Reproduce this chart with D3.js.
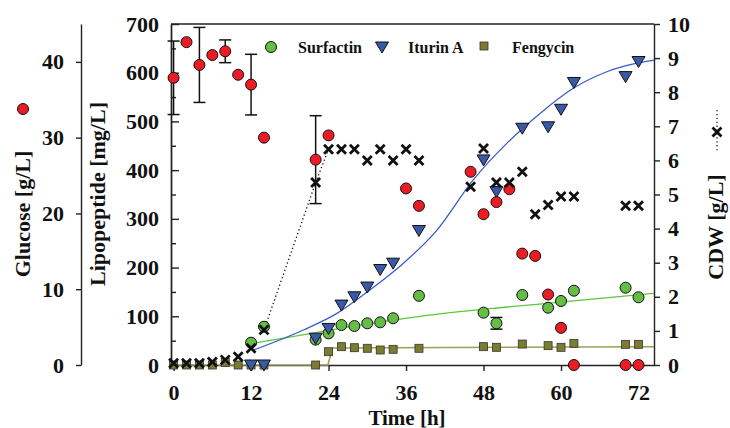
<!DOCTYPE html>
<html>
<head>
<meta charset="utf-8">
<script src="https://cdn.jsdelivr.net/npm/d3@7"></script>
<style>
  body { margin: 0; background: #fff; }
  svg { font-family: 'Liberation Serif', 'Times New Roman', serif; font-weight: bold; }
  .axis path, .axis line { stroke: #222; stroke-width: 1.4; }
  .axis text { font-size: 22px; font-weight: bold; fill: #111; font-family: 'Liberation Serif', serif; }
  .title { font-size: 22px; fill: #111; }
  .legend text { font-size: 16px; fill: #111; }
</style>
</head>
<body>
<div id="chart"></div>
<script>
// glucose [g/L]
const glucoseTime = [0, 2, 4, 6, 8, 10, 12, 14, 22, 24, 36, 38, 46, 48, 50, 52, 54, 56, 58, 60, 62, 70, 72];
const glucoseValue = [37.9, 42.6, 39.6, 40.9, 41.4, 38.3, 37.0, 30.0, 27.1, 30.3, 23.3, 21.0, 25.5, 19.9, 21.5, 23.2, 14.7, 14.4, 9.3, 4.9, 0, 0, 0];
const glucoseError = [4.85, 0, 4.95, 0, 1.5, 0, 4.0, 0, 5.8, 0, 0, 0, 0, 0, 0, 0, 0, 0, 0, 0, 0, 0, 0];

// cell dry weight [g/L]
const cdwTime = [0, 2, 4, 6, 8, 10, 12, 14, 22, 24, 26, 28, 30, 32, 34, 36, 38, 46, 48, 50, 52, 54, 56, 58, 60, 62, 70, 72];
const cdwValue = [0.05, 0.05, 0.05, 0.09, 0.15, 0.24, 0.49, 1.03, 5.35, 6.33, 6.33, 6.33, 6.0, 6.33, 6.0, 6.33, 6.0, 5.23, 6.35, 5.35, 5.35, 5.67, 4.42, 4.69, 4.94, 4.94, 4.67, 4.67];
const cdwTrendTime = [14, 22, 24];

// lipopeptides [mg/L]
const surfactinTime = [12, 14, 22, 24, 26, 28, 30, 32, 34, 38, 48, 50, 54, 58, 60, 62, 70, 72];
const surfactinValue = [45.8, 78.6, 52, 65, 82, 80, 85.6, 87.6, 96, 142, 107.4, 85.6, 143.7, 117.6, 131.4, 152.5, 158.7, 139];
const surfactinError = [0, 0, 0, 0, 0, 0, 0, 0, 0, 0, 0, 12, 0, 0, 0, 0, 0, 0];

const iturinTime = [12, 14, 22, 24, 26, 28, 30, 32, 34, 38, 48, 50, 54, 58, 60, 62, 70, 72];
const iturinValue = [0, 0, 55, 75, 123, 140, 160, 196, 209, 276, 421, 356, 486, 489, 525, 580, 592, 623];

const fengycinTime = [0, 2, 4, 6, 8, 10, 12, 14, 22, 24, 26, 28, 30, 32, 34, 38, 48, 50, 54, 58, 60, 62, 70, 72];
const fengycinValue = [0, 0, 0, 0, 5, 0, 0, 0, 0, 27.3, 37.6, 35.5, 34.3, 30.8, 32.2, 34.3, 37.6, 36.3, 43, 39.7, 36.3, 44.5, 42.4, 42.4];

// fitted curves
const surfactinFitTime = [12.4, 20, 27.3, 38.2, 50, 59.9, 74.4];
const surfactinFitValue = [44.6, 62, 78.6, 100, 117, 129, 147];
const iturinFitTime = [12.4, 20.1, 25.3, 30.4, 35.6, 40.8, 46.4, 51.6, 56.8, 61.9, 67.1, 72.3, 74.4];
const iturinFitValue = [30.8, 71.9, 106, 154, 209, 277, 380, 455, 517, 568, 602, 621, 626];
const fengycinFitTime = [0, 23.9, 24.6, 74.4];
const fengycinFitValue = [0, 0, 35, 37.6];

const timeTicks = [0, 12, 24, 36, 48, 60, 72];
const lipoTicks = [0, 100, 200, 300, 400, 500, 600, 700];
const lipoMinorTicks = [50, 150, 250, 350, 450, 550, 650];
const glucoseTicks = [0, 10, 20, 30, 40];
const cdwTicks = [0, 1, 2, 3, 4, 5, 6, 7, 8, 9, 10];

const legendNames = ['Surfactin', 'Iturin A', 'Fengycin'];

const colors = {
  glucose: '#ec1c24',
  surfactin: '#66bd46',
  iturin: '#3a5aa8',
  fengycin: '#7c7c30',
  surfactinLine: '#5cc83a',
  iturinLine: '#3b5cc8',
  fengycinLine: '#9e9e5c',
};

const zip = (t, v) => t.map((d, i) => ({ t: d, v: v[i] }));

const svg = d3.select('#chart')
  .append('svg')
  .attr('width', 730)
  .attr('height', 428);

const x = d3.scaleLinear().domain([-0.4, 74.4]).range([171, 654]);
const yLipo = d3.scaleLinear().domain([0, 700]).range([365, 24]);
const yGlucose = d3.scaleLinear().domain([0, 45]).range([365, 24]);
const yCdw = d3.scaleLinear().domain([0, 10]).range([365, 24]);

// axes
svg.append('line')
  .attr('x1', x.range()[0])
  .attr('x2', x.range()[1])
  .attr('y1', yLipo.range()[1])
  .attr('y2', yLipo.range()[1])
  .attr('stroke', '#222')
  .attr('stroke-width', 1.4);

svg.append('g')
  .attr('class', 'axis')
  .attr('transform', `translate(${x.range()[0]},0)`)
  .call(d3.axisLeft(yLipo).tickValues(lipoTicks).tickSize(-8).tickSizeOuter(0).tickPadding(12));

svg.append('g')
  .attr('class', 'axis')
  .attr('transform', `translate(${x.range()[0]},0)`)
  .call(d3.axisLeft(yLipo).tickValues(lipoMinorTicks).tickSize(-5).tickSizeOuter(0).tickFormat(''));

svg.append('g')
  .attr('class', 'axis')
  .attr('transform', 'translate(81,0)')
  .call(d3.axisLeft(yGlucose).tickValues(glucoseTicks).tickSize(5).tickSizeOuter(0).tickPadding(12));

svg.append('g')
  .attr('class', 'axis')
  .attr('transform', `translate(${x.range()[1]},0)`)
  .call(d3.axisRight(yCdw).tickValues(cdwTicks).tickSize(6).tickSizeOuter(0).tickPadding(8));

svg.append('g')
  .attr('class', 'axis')
  .attr('transform', `translate(0,${yLipo(0)})`)
  .call(d3.axisBottom(x).tickValues(timeTicks).tickSize(6).tickSizeOuter(0).tickPadding(13.5));

// axis titles
svg.append('text')
  .attr('class', 'title')
  .attr('transform', 'translate(30,214) rotate(-90)')
  .attr('text-anchor', 'middle')
  .text('Glucose [g/L]');

svg.append('text')
  .attr('class', 'title')
  .attr('transform', 'translate(105,194) rotate(-90)')
  .attr('text-anchor', 'middle')
  .text('Lipopeptide [mg/L]');

svg.append('text')
  .attr('class', 'title')
  .attr('transform', 'translate(723,227) rotate(-90)')
  .attr('text-anchor', 'middle')
  .text('CDW [g/L]');

svg.append('text')
  .attr('class', 'title')
  .attr('x', 407)
  .attr('y', 424.5)
  .attr('text-anchor', 'middle')
  .style('font-size', '21px')
  .text('Time [h]');

// fit lines
const fitLine = y => d3.line()
  .x(d => x(d.t))
  .y(d => y(d.v))
  .curve(d3.curveMonotoneX);

svg.append('path')
  .datum(zip(fengycinFitTime, fengycinFitValue))
  .attr('fill', 'none')
  .attr('stroke', colors.fengycinLine)
  .attr('stroke-width', 1.6)
  .attr('d', d3.line().x(d => x(d.t)).y(d => yLipo(d.v)));

svg.append('path')
  .datum(zip(surfactinFitTime, surfactinFitValue))
  .attr('fill', 'none')
  .attr('stroke', colors.surfactinLine)
  .attr('stroke-width', 1.3)
  .attr('d', fitLine(yLipo));

svg.append('path')
  .datum(zip(iturinFitTime, iturinFitValue))
  .attr('fill', 'none')
  .attr('stroke', colors.iturinLine)
  .attr('stroke-width', 1.3)
  .attr('d', fitLine(yLipo));

const cdwTrend = zip(cdwTime, cdwValue).filter(d => cdwTrendTime.includes(d.t));
svg.append('path')
  .datum(cdwTrend)
  .attr('fill', 'none')
  .attr('stroke', '#111')
  .attr('stroke-width', 1.3)
  .attr('stroke-dasharray', '1.3,2.6')
  .attr('d', d3.line().x(d => x(d.t)).y(d => yCdw(d.v)));

// error bars
const errorBars = (data, y) => {
  const g = svg.append('g')
    .attr('stroke', '#111')
    .attr('stroke-width', 1.5);
  const bars = data.filter(d => d.e > 0);
  g.selectAll('.eb-v')
    .data(bars)
    .enter()
    .append('line')
    .attr('x1', d => x(d.t))
    .attr('x2', d => x(d.t))
    .attr('y1', d => y(d.v + d.e))
    .attr('y2', d => y(d.v - d.e));
  g.selectAll('.eb-top')
    .data(bars)
    .enter()
    .append('line')
    .attr('x1', d => x(d.t) - 6)
    .attr('x2', d => x(d.t) + 6)
    .attr('y1', d => y(d.v + d.e))
    .attr('y2', d => y(d.v + d.e));
  g.selectAll('.eb-bottom')
    .data(bars)
    .enter()
    .append('line')
    .attr('x1', d => x(d.t) - 6)
    .attr('x2', d => x(d.t) + 6)
    .attr('y1', d => y(d.v - d.e))
    .attr('y2', d => y(d.v - d.e));
};

errorBars(glucoseTime.map((t, i) => ({ t, v: glucoseValue[i], e: glucoseError[i] })), yGlucose);
errorBars(surfactinTime.map((t, i) => ({ t, v: surfactinValue[i], e: surfactinError[i] })), yLipo);

// markers
const triangleDown = 'M-6.5,-5L6.5,-5L0,6Z';
const cross = 'M-4.5,-4.5L4.5,4.5M-4.5,4.5L4.5,-4.5';

svg.append('g')
  .selectAll('rect')
  .data(zip(fengycinTime, fengycinValue))
  .enter()
  .append('rect')
  .attr('x', d => x(d.t) - 4)
  .attr('y', d => yLipo(d.v) - 4)
  .attr('width', 8)
  .attr('height', 8)
  .attr('fill', colors.fengycin)
  .attr('stroke', '#333')
  .attr('stroke-width', 0.8);

svg.append('g')
  .selectAll('circle')
  .data(zip(surfactinTime, surfactinValue))
  .enter()
  .append('circle')
  .attr('cx', d => x(d.t))
  .attr('cy', d => yLipo(d.v))
  .attr('r', 5.5)
  .attr('fill', colors.surfactin)
  .attr('stroke', '#111')
  .attr('stroke-width', 1);

svg.append('g')
  .selectAll('path')
  .data(zip(iturinTime, iturinValue))
  .enter()
  .append('path')
  .attr('transform', d => `translate(${x(d.t)},${yLipo(d.v)})`)
  .attr('d', triangleDown)
  .attr('fill', colors.iturin)
  .attr('stroke', '#111')
  .attr('stroke-width', 1);

svg.append('g')
  .selectAll('circle')
  .data(zip(glucoseTime, glucoseValue))
  .enter()
  .append('circle')
  .attr('cx', d => x(d.t))
  .attr('cy', d => yGlucose(d.v))
  .attr('r', 5.5)
  .attr('fill', colors.glucose)
  .attr('stroke', '#111')
  .attr('stroke-width', 1);

svg.append('g')
  .selectAll('path')
  .data(zip(cdwTime, cdwValue))
  .enter()
  .append('path')
  .attr('transform', d => `translate(${x(d.t)},${yCdw(d.v)})`)
  .attr('d', cross)
  .attr('fill', 'none')
  .attr('stroke', '#111')
  .attr('stroke-width', 2.8);

// legends
const legend = svg.append('g').attr('class', 'legend');

legend.append('circle')
  .attr('cx', 271)
  .attr('cy', 47)
  .attr('r', 5.5)
  .attr('fill', colors.surfactin)
  .attr('stroke', '#111');
legend.append('path')
  .attr('transform', 'translate(382,47)')
  .attr('d', triangleDown)
  .attr('fill', colors.iturin)
  .attr('stroke', '#111');
legend.append('rect')
  .attr('x', 480)
  .attr('y', 42)
  .attr('width', 8)
  .attr('height', 8)
  .attr('fill', colors.fengycin)
  .attr('stroke', '#333')
  .attr('stroke-width', 0.8);

legend.selectAll('text')
  .data(legendNames)
  .enter()
  .append('text')
  .attr('x', (d, i) => [298, 408, 512][i])
  .attr('y', 47)
  .attr('dy', '0.35em')
  .text(d => d);

svg.append('circle')
  .attr('cx', 23)
  .attr('cy', 109)
  .attr('r', 5.5)
  .attr('fill', colors.glucose)
  .attr('stroke', '#111');

svg.append('line')
  .attr('x1', 717)
  .attr('x2', 717)
  .attr('y1', 110)
  .attr('y2', 153)
  .attr('stroke', '#111')
  .attr('stroke-width', 1.2)
  .attr('stroke-dasharray', '1.3,2.6');
svg.append('path')
  .attr('transform', 'translate(717,132)')
  .attr('d', cross)
  .attr('stroke', '#111')
  .attr('stroke-width', 2.8);
</script>
</body>
</html>
